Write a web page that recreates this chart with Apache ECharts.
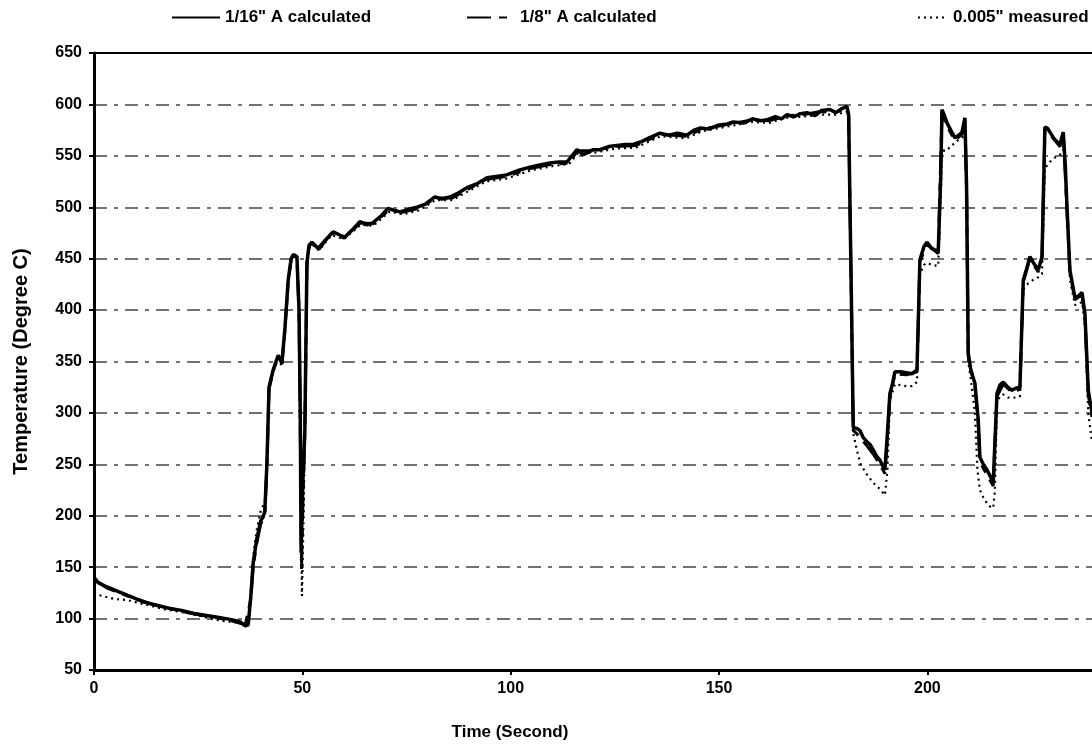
<!DOCTYPE html>
<html>
<head>
<meta charset="utf-8">
<script src="https://cdn.jsdelivr.net/npm/echarts@6/dist/echarts.min.js"></script>
<style>html,body{margin:0;padding:0;background:#fff}#c{width:1092px;height:752px}</style>
</head>
<body>
<div id="c"></div>
<script>
// Tick settings
var xTicks = [0, 50, 100, 150, 200];
var yTicks = [50, 100, 150, 200, 250, 300, 350, 400, 450, 500, 550, 600, 650];
var seriesNames = ['1/16" A calculated', '1/8" A calculated', '0.005" measured'];

// 1/16" A calculated  [time s, temperature C]
var calc16 = [[0,140],[1,135],[3,131],[6,126],[9,121],[12,116],[15,113],[18,110],[21,108],[24,105],[27,103],[30,101],[33,99],[35,97],[36.3,93],[37,94],[37.6,120],[38.2,154],[39,176],[40,195],[40.6,199],[41,205],[41.5,251],[42,325],[43,342],[44.2,356],[45.1,349],[45.8,381],[46.6,429],[47.3,450],[47.8,454],[48.7,452],[49.2,400],[49.5,300],[49.7,164],[50.1,230],[50.6,283],[51.1,446],[51.6,463],[52.3,466],[53.8,460],[55.5,468],[57.4,476],[59,473],[60.2,471],[62,478],[63.8,486],[65.5,483],[67,485],[69,492],[70.6,499],[72,497],[73.4,495.5],[75.5,498],[77.5,500],[79.5,503],[81.8,510],[83.5,508],[85.4,510],[87.5,514],[89.5,519],[92,523],[94.3,528.6],[96.5,530],[99,531.5],[102,536],[104.6,539],[107,541],[109.4,543],[111.5,544],[113.5,544],[115.9,556],[117.4,551],[119.8,556],[121.4,556],[123.5,559],[125.5,560],[127.5,561],[129.4,561],[131.5,564],[133.5,568],[135.8,572],[138,570],[140,572],[142.3,570],[144,575],[145.4,577],[147.5,576],[150,580],[152,581],[153.4,583],[156,582],[158,586],[160,584],[161.5,585],[163.5,588],[165,586],[166.3,590],[168,588],[169.5,591],[171.1,592],[173,589],[174.5,594],[176.6,595],[178,592],[179.5,596],[180.7,598],[181.1,590],[181.4,507],[181.8,400],[182.2,286],[183,285],[183.8,283],[184.6,276],[185.5,272],[186.3,269],[187,264],[187.8,258],[188.6,254],[189.8,244.5],[190.4,280],[191,319],[191.6,328],[192.2,340],[193.5,340],[195,339],[196.3,338],[197.5,342],[198.2,449],[199.2,462],[199.9,466],[201,460],[202.6,457],[203.2,530],[203.5,595],[204,590],[204.7,582],[205.6,575],[206.6,567.5],[207.5,570],[208.3,573],[209,587],[209.4,520],[209.8,358],[210.5,340],[211.4,329],[212.2,293],[212.6,257],[213.4,250],[214.3,244.5],[215,239],[215.8,233],[216.7,319],[217.4,327],[218.2,330],[219.3,325],[220.3,322],[221.2,324],[222.2,325],[223,429],[223.8,440],[224.6,452],[225.6,445],[226.6,439],[227.5,452],[228.2,578],[228.8,577],[229.4,573],[230.5,566],[231.8,561],[232.6,573],[233.1,540],[233.5,500],[234.2,439],[235.4,412],[236.3,414],[237.1,417],[237.8,397],[238.6,322],[239.5,300]];

// 1/8" A calculated
var calc8 = [[0,138],[3,130],[8,122],[14,114],[20,108],[26,103],[32,99],[36.3,94],[37.6,118],[38.2,150],[39,172],[40,192],[40.6,197],[41,203],[41.5,248],[42,323],[43,341],[44.2,355],[45.1,348],[45.8,380],[46.6,428],[47.3,449],[47.8,453],[48.7,451],[49.2,398],[49.5,290],[49.8,148],[50.2,225],[50.6,282],[51.1,444],[51.6,462],[52.3,465],[54,459],[57,475],[60,470],[64,485],[67,484],[71,498],[74,495],[78,499],[82,509],[86,509],[90,518],[94,527],[99,530],[105,538],[110,542],[114,543],[116,555],[120,555],[125,559],[130,560],[136,571],[142,569],[146,576],[150,579],[154,582],[158,585],[162,584],[166,589],[170,590],[174,593],[178,592],[180.7,597],[181.1,588],[181.4,505],[181.8,398],[182.2,283],[183,280],[184,275],[185.5,268],[187,260],[188.6,250],[189.8,241],[190.4,276],[191,316],[191.6,326],[192.2,338],[195,337],[197.5,340],[198.2,447],[199.9,464],[202.6,455],[203.5,592],[204.7,579],[206.6,565],[208.3,571],[209,585],[209.4,518],[209.8,355],[211.4,326],[212.2,290],[212.6,252],[214.3,240],[215.8,229],[216.7,316],[218.2,328],[220.3,320],[222.2,323],[223,427],[224.6,450],[226.6,437],[227.5,450],[228.2,576],[229.4,571],[231.8,559],[232.6,571],[233.5,497],[234.2,437],[235.4,410],[237.1,415],[237.8,394],[238.6,318],[239.5,296]];

// 0.005" measured
var measured = [[0,125],[1,123],[3,121],[5,119],[8,118],[11,115],[14,112],[17,109],[20,107],[23,105],[26,102],[29,99],[32,97],[35,96],[36.3,94],[37,95],[37.6,125],[38.2,160],[39,185],[40,205],[40.6,210],[41,215],[41.5,255],[42,322],[43,340],[44.2,353],[45.1,345],[45.8,378],[46.6,426],[47.3,447],[47.8,452],[48.7,450],[49.2,390],[49.5,250],[49.9,122],[50.3,200],[50.6,280],[51.1,440],[51.6,460],[52.3,464],[54,458],[57,473],[60,469],[64,483],[67,482],[71,496],[74,493],[78,497],[82,507],[86,507],[90,516],[94,525],[99,528],[105,536],[110,540],[114,542],[116,552],[120,553],[125,557],[130,558],[136,569],[142,567],[146,574],[150,577],[154,580],[158,583],[162,582],[166,587],[170,588],[174,590],[178,590],[180.7,593],[181.1,585],[181.4,500],[181.8,400],[182.2,280],[183,265],[184,250],[185.5,240],[187,232],[188.6,226],[189.8,220],[190.4,244],[191,312],[191.6,320],[192.2,328],[193.5,327],[195,326],[196.3,326],[197.5,330],[198.2,435],[199.2,444],[199.9,446],[201,444],[202.6,443],[203.2,510],[203.5,555],[204.7,555],[205.6,560],[206.6,562],[207.5,566],[208.3,568],[209,570],[209.4,510],[209.8,350],[210.5,330],[211.4,300],[212,244.5],[212.6,225],[213.4,218],[214.3,212],[215,209],[215.8,207.5],[216.2,225],[216.7,310],[217.4,316],[218.2,318],[219.3,315],[220.3,314.6],[221.2,315],[222.2,316],[223,420],[223.8,425],[224.6,427],[225.6,430],[226.6,432],[227.5,435],[228.2,538],[228.8,541],[229.4,544],[230.5,548],[231.8,551],[232.6,556],[233.1,530],[233.5,490],[234.2,430],[235.4,405],[236.3,406],[237.1,408],[237.8,385],[238.6,300],[239.5,272]];

var FONT = '"Liberation Sans", Arial, sans-serif';
var chart = echarts.init(document.getElementById('c'), null, {renderer: 'canvas'});
var legendText = {fontFamily: FONT, fontWeight: 'bold', fontSize: 17, color: '#000'};
function legend(name, left, w) {
  return {data: [name], left: left, top: 4, itemWidth: w, itemHeight: 14, itemGap: 4,
    textStyle: legendText, itemStyle: {opacity: 0, borderWidth: 0, color: 'rgba(0,0,0,0)'}};
}
var option = {
  animation: false,
  backgroundColor: '#fff',
  grid: {left: 94, right: 0, top: 53, bottom: 82, containLabel: false},
  legend: [legend(seriesNames[0], 166, 48), legend(seriesNames[1], 461, 48), legend(seriesNames[2], 912, 30)],
  xAxis: [{
    type: 'value', min: xTicks[0], max: 239.5, interval: 50,
    name: 'Time (Second)', nameLocation: 'middle', nameGap: 54,
    nameTextStyle: {fontFamily: FONT, fontWeight: 'bold', fontSize: 17, color: '#000', padding: [0, 166, 0, 0]},
    axisLine: {show: true, onZero: false, lineStyle: {color: '#000', width: 3}},
    axisTick: {show: true, length: 5, lineStyle: {color: '#000', width: 2}},
    axisLabel: {showMaxLabel: false, margin: 11, fontFamily: FONT, fontWeight: 'bold', fontSize: 16, color: '#000'},
    splitLine: {show: false}
  }, {
    type: 'value', position: 'top', min: xTicks[0], max: 239.5, interval: 50,
    axisLine: {show: true, lineStyle: {color: '#000', width: 2}},
    axisTick: {show: false}, axisLabel: {show: false}, splitLine: {show: false}
  }],
  yAxis: {
    type: 'value', min: yTicks[0], max: yTicks[yTicks.length - 1], interval: 50,
    name: 'Temperature (Degree C)', nameLocation: 'middle', nameGap: 63, nameRotate: 90,
    nameTextStyle: {fontFamily: FONT, fontWeight: 'bold', fontSize: 20, color: '#000'},
    axisLine: {show: true, onZero: false, lineStyle: {color: '#000', width: 3}},
    axisTick: {show: true, length: 5, lineStyle: {color: '#000', width: 2}},
    axisLabel: {margin: 12, fontFamily: FONT, fontWeight: 'bold', fontSize: 16, color: '#000'},
    splitLine: {show: true, lineStyle: {color: '#444', width: 1.5, type: [13, 7, 4, 7]}}
  },
  series: [
    {name: seriesNames[2], type: 'line', data: measured, showSymbol: false, symbol: 'none', z: 2,
      lineStyle: {color: '#000', width: 2.2, type: [2, 4]}, itemStyle: {color: '#000'}},
    {name: seriesNames[1], type: 'line', data: calc8, showSymbol: false, symbol: 'none', z: 3,
      lineStyle: {color: '#000', width: 3, type: [24, 8, 8, 8]}, itemStyle: {color: '#000'}},
    {name: seriesNames[0], type: 'line', data: calc16, showSymbol: false, symbol: 'none', z: 4,
      lineStyle: {color: '#000', width: 3.5}, itemStyle: {color: '#000'}}
  ]
};
chart.setOption(option);
</script>
</body>
</html>
